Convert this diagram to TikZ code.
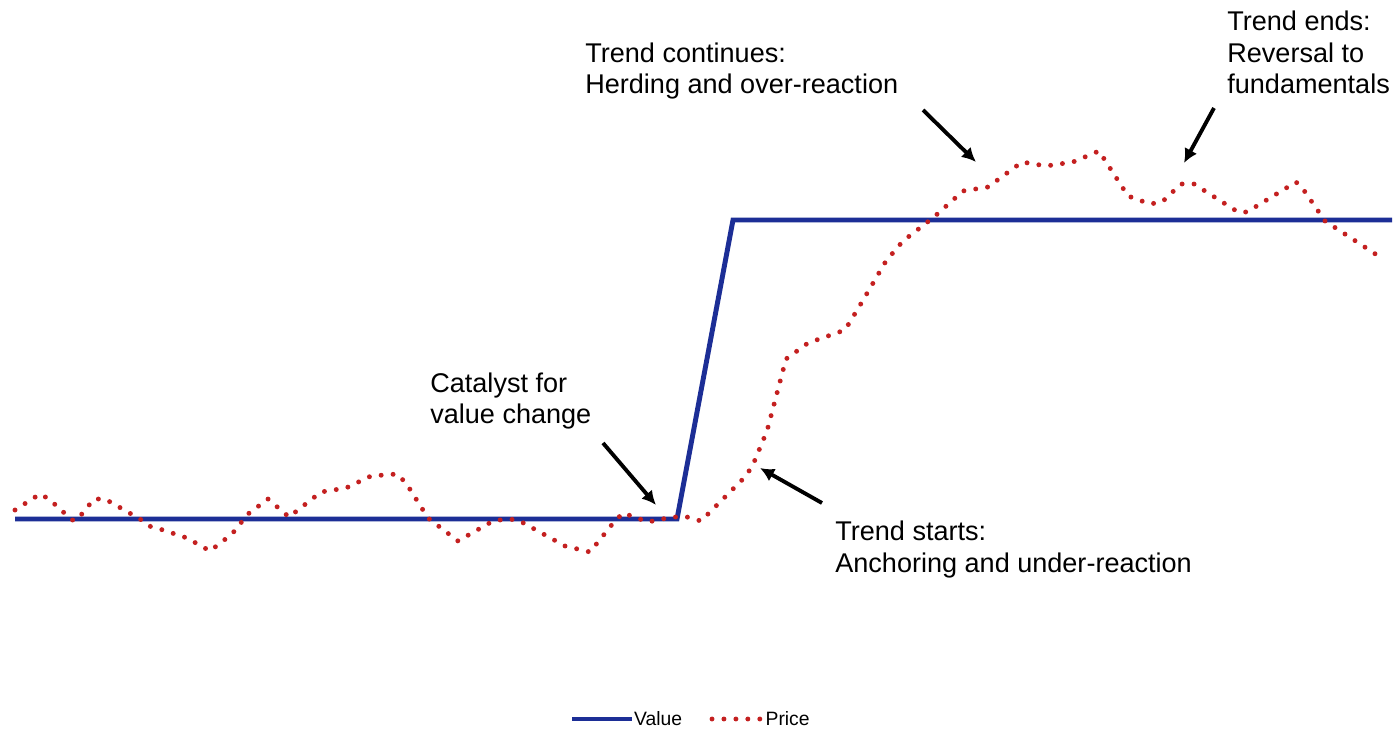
\documentclass[tikz,border=0pt]{standalone}
\usepackage{fontspec}
\setmainfont{Liberation Sans}
\usetikzlibrary{positioning, calc, arrows.meta, decorations.markings}
\definecolor{ValueBlue}{RGB}{28,46,150}
\definecolor{PriceRed}{RGB}{196,32,32}
\tikzstyle{Arrow} = [
line width=2.2pt,
decoration={
markings,
mark=at position 0.9999 with {
\arrow{Latex[length=8pt,width=8pt]}}},
shorten >= 4pt, preaction = {decorate}]
\tikzstyle{Value} = [ValueBlue, line width=2.8pt, line join=miter]
\tikzstyle{Price} = [PriceRed, line width=2.8pt, line cap=round,
dash pattern=on 0pt off 6.8pt]
\tikzstyle{Label} = [inner sep=0pt, anchor=base west, align=left,
font=\fontsize{15.4}{18.2}\selectfont]
\tikzstyle{Key} = [inner sep=0pt, font=\fontsize{11}{13}\selectfont]

\begin{document}
\begin{tikzpicture}[x=0.02cm, y=-0.02cm]
    \useasboundingbox [fill=white] (0,0) rectangle (1400,729);
    \node [Label] (1) at (430,424) {Catalyst for\\value change};
    \node [Label] (2) at (835,572) {Trend starts:\\Anchoring and under-reaction};
    \node [Label] (3) at (585,94) {Trend continues:\\Herding and over-reaction};
    \node [Label] (4) at (1227,94) {Trend ends:\\Reversal to\\fundamentals};
    \coordinate (1t) at (603,443); \coordinate (1h) at (656,505);
    \coordinate (2t) at (822,503); \coordinate (2h) at (760,468);
    \coordinate (3t) at (923,110); \coordinate (3h) at (976,162);
    \coordinate (4t) at (1214,108); \coordinate (4h) at (1184,163);
    \draw [Value] (15,519) -- (677,519) -- (733,220) -- (1392,220);
    \draw [Price] plot coordinates {(15,510) (40,494) (49,499) (72,520)
        (77,520) (94,499) (105,499) (140,519) (149,526) (163,530) (187,538)
        (210,551) (232,534) (248,514) (268,499) (289,517) (321,492) (346,488)
        (371,476) (397,474) (406,483) (428,518) (458,541) (493,521) (507,519)
        (518,520) (565,546) (590,552) (614,522) (623,513) (648,522) (672,517)
        (687,517) (701,521) (743,479) (752,467) (767,431) (786,359) (808,343)
        (845,330) (859,307) (886,261) (903,241) (934,217) (963,191) (988,187)
        (1022,162) (1046,166) (1073,162) (1099,151) (1128,196) (1150,204)
        (1162,202) (1181,184) (1194,184) (1238,212) (1247,212) (1296,182)
        (1303,189) (1325,221) (1383,259)};
    \draw [Arrow] (1t) to (1h); \draw [Arrow] (2t) to (2h);
    \draw [Arrow] (3t) to (3h); \draw [Arrow] (4t) to (4h);
    \coordinate (5a) at (572,719); \coordinate (5b) at (632,719);
    \coordinate (6a) at (712,719); \coordinate (6b) at (760,719);
    \draw [Value] (5a) -- (5b);
    \node [Key, right =1pt of 5b] (5) {Value};
    \draw [Price] (6a) -- (6b);
    \node [Key, right =3pt of 6b] (6) {Price};
\end{tikzpicture}
\end{document}
